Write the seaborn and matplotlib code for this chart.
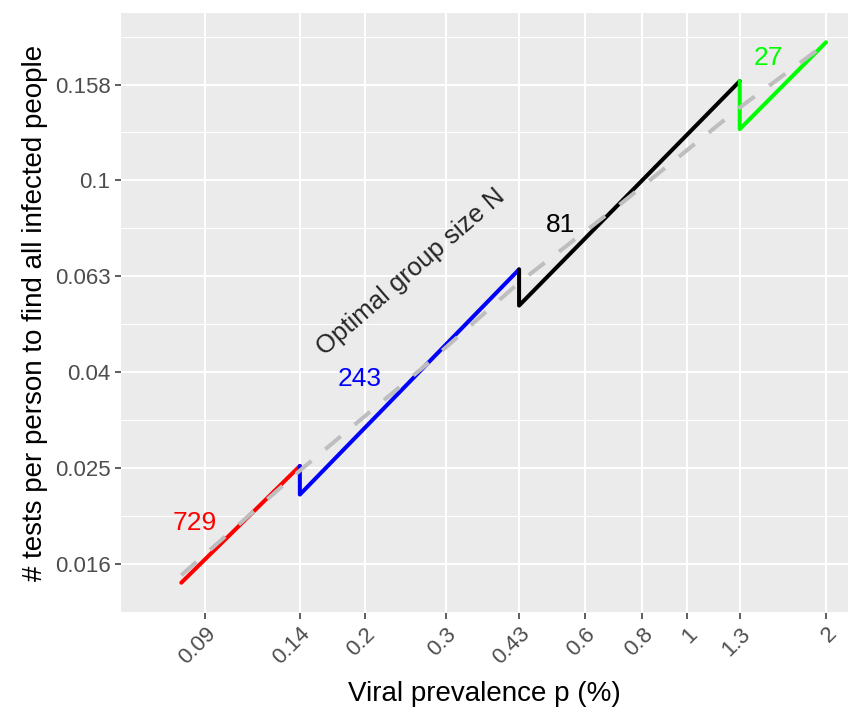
import numpy as np
import pandas as pd
import matplotlib
matplotlib.use("Agg")
import matplotlib.pyplot as plt
import matplotlib.ticker as mticker
import seaborn as sns

# optimal group size segments (p in %, tests per person)
p_729 = [0.080, 0.1446]
t_729 = [0.01447, 0.02536]
p_243 = [0.1446, 0.1446, 0.432]
t_243 = [0.02536, 0.0221, 0.0652]
p_81 = [0.432, 0.432, 1.30]
t_81 = [0.0652, 0.0548, 0.1611]
p_27 = [1.30, 1.30, 2.0]
t_27 = [0.1611, 0.1279, 0.1942]

# dashed reference curve
p_bound = [0.080, 0.1446, 0.273, 0.432, 0.715, 1.30, 2.0]
t_bound = [0.0150, 0.0248, 0.0414, 0.0612, 0.0891, 0.1419, 0.193]

group_names = ["729", "243", "81", "27"]
group_colors = ["#FF0000", "#0000FF", "#000000", "#00FF00"]

# label positions for group sizes
label_p = [0.0856, 0.1944, 0.530, 1.498]
label_t = [0.0193, 0.0385, 0.0806, 0.1804]

x_breaks = [0.09, 0.1446, 0.2, 0.3, 0.432, 0.6, 0.8, 1, 1.3, 2]
x_labels = ["0.09", "0.14", "0.2", "0.3", "0.43", "0.6", "0.8", "1", "1.3", "2"]
y_breaks = [0.01585, 0.02512, 0.03981, 0.0631, 0.1, 0.1585]
y_labels = ["0.016", "0.025", "0.04", "0.063", "0.1", "0.158"]
y_minor = [0.01259, 0.01995, 0.03162, 0.05012, 0.07943, 0.1259, 0.1995]

frames = []
for name, px, ty in zip(group_names, [p_729, p_243, p_81, p_27], [t_729, t_243, t_81, t_27]):
    frames.append(pd.DataFrame({"p": px, "t": ty, "N": name}))
df = pd.concat(frames, ignore_index=True)

sns.set_theme(style="darkgrid")
plt.rcParams["font.family"] = ["Liberation Sans", "DejaVu Sans"]

fig = plt.figure(figsize=(8.48, 7.08), dpi=100)
ax = fig.add_axes([121 / 848, 1 - 613 / 708, 727 / 848, 600 / 708])
ax.set_facecolor("#EBEBEB")

sns.lineplot(data=df, x="p", y="t", hue="N", palette=dict(zip(group_names, group_colors)),
             sort=False, estimator=None, linewidth=2.9, legend=False, ax=ax, zorder=3)
sns.lineplot(x=p_bound, y=t_bound, color="#BEBEBE", linewidth=2.9, sort=False,
             estimator=None, linestyle=(0, (5, 4.5)), ax=ax, zorder=4)

for name, col, lp, lt in zip(group_names, group_colors, label_p, label_t):
    ax.text(lp, lt, name, color=col, fontsize=19, ha="center", va="center", zorder=5)
ax.text(0.2512, 0.0645, "Optimal group size N", fontsize=18.5, rotation=41,
        ha="center", va="center", rotation_mode="anchor", zorder=5)

ax.set_xscale("log")
ax.set_yscale("log")
ax.set_xlim(0.0592, 2.232)
ax.set_ylim(0.01251, 0.2235)

ax.xaxis.set_major_locator(mticker.FixedLocator(x_breaks))
ax.xaxis.set_major_formatter(mticker.FixedFormatter(x_labels))
ax.xaxis.set_minor_locator(mticker.NullLocator())
ax.yaxis.set_major_locator(mticker.FixedLocator(y_breaks))
ax.yaxis.set_major_formatter(mticker.FixedFormatter(y_labels))
ax.yaxis.set_minor_locator(mticker.FixedLocator(y_minor))
ax.yaxis.set_minor_formatter(mticker.NullFormatter())

ax.grid(which="major", color="white", linewidth=1.5)
ax.grid(which="minor", axis="y", color="white", linewidth=0.75)
ax.set_axisbelow(True)
for s in ax.spines.values():
    s.set_visible(False)

ax.tick_params(axis="both", which="major", length=4.5, width=1.1, color="#333333",
               labelsize=16, labelcolor="#4D4D4D", pad=3, bottom=True, left=True)
ax.tick_params(axis="y", which="minor", length=0)
for lab in ax.get_xticklabels():
    lab.set_rotation(45)
    lab.set_ha("right")
    lab.set_va("top")
    lab.set_rotation_mode("anchor")

ax.set_xlabel("Viral prevalence p (%)", fontsize=20, color="black", labelpad=9)
ax.set_ylabel("# tests per person to find all infected people", fontsize=20,
              color="black", labelpad=5)

fig.savefig("out.png", dpi=100)
